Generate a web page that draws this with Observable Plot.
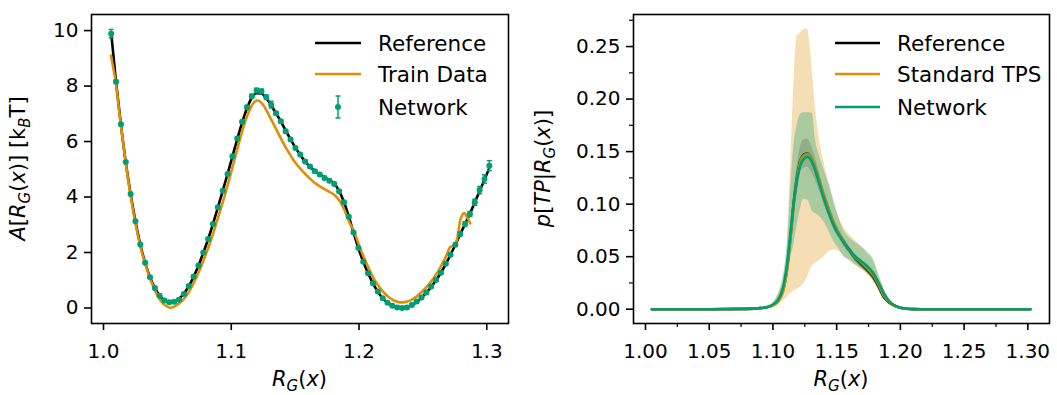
<!DOCTYPE html>
<html><head><meta charset="utf-8">
<script src="https://cdn.jsdelivr.net/npm/d3@7"></script>
<script src="https://cdn.jsdelivr.net/npm/@observablehq/plot@0.6"></script>
<style>
body{margin:0;background:#fff;}
#wrap{position:relative;width:1057px;height:395px;overflow:hidden;}
#wrap svg{position:absolute;top:0;}
</style></head><body><div id="wrap"></div>
<script>
// ---------- data: left panel ----------
const netX = [1.0060,1.0098,1.0136,1.0174,1.0212,1.0250,1.0288,1.0326,1.0364,1.0402,
1.0439,1.0477,1.0515,1.0553,1.0591,1.0629,1.0667,1.0705,1.0743,1.0781,
1.0819,1.0857,1.0895,1.0933,1.0971,1.1009,1.1047,1.1085,1.1123,1.1161,
1.1198,1.1236,1.1274,1.1312,1.1350,1.1388,1.1426,1.1464,1.1502,1.1540,
1.1578,1.1616,1.1654,1.1692,1.1730,1.1768,1.1806,1.1844,1.1882,1.1920,
1.1957,1.1995,1.2033,1.2071,1.2109,1.2147,1.2185,1.2223,1.2261,1.2299,
1.2337,1.2375,1.2413,1.2451,1.2489,1.2527,1.2565,1.2603,1.2641,1.2679,
1.2716,1.2754,1.2792,1.2830,1.2868,1.2906,1.2944,1.2982,1.3020];
const netY = [9.89,8.16,6.62,5.26,4.11,3.13,2.29,1.63,1.11,0.72,
0.44,0.27,0.21,0.22,0.30,0.50,0.79,1.13,1.53,2.00,
2.49,3.03,3.63,4.23,4.83,5.47,6.11,6.71,7.24,7.63,
7.84,7.81,7.60,7.33,7.02,6.73,6.37,6.07,5.77,5.53,
5.28,5.10,4.93,4.81,4.69,4.59,4.47,4.21,3.81,3.29,
2.72,2.16,1.67,1.25,0.89,0.59,0.35,0.19,0.08,0.02,
0.00,0.02,0.11,0.23,0.38,0.56,0.77,1.01,1.27,1.59,
1.92,2.28,2.67,3.03,3.39,3.81,4.25,4.65,5.13];
const netErr = [0.15,0.05,0.04,0.04,0.04,0.04,0.04,0.04,0.04,0.04,
0.05,0.05,0.05,0.05,0.05,0.04,0.04,0.04,0.04,0.04,
0.04,0.04,0.04,0.04,0.04,0.05,0.05,0.05,0.06,0.07,
0.08,0.08,0.08,0.12,0.06,0.06,0.06,0.05,0.05,0.05,
0.05,0.05,0.05,0.05,0.05,0.05,0.05,0.05,0.05,0.05,
0.04,0.04,0.04,0.04,0.04,0.04,0.04,0.04,0.05,0.05,
0.05,0.05,0.05,0.05,0.05,0.05,0.05,0.05,0.05,0.05,
0.06,0.06,0.07,0.08,0.09,0.11,0.13,0.15,0.18];
const refY = [9.92,8.15,6.62,5.26,4.11,3.13,2.29,1.63,1.11,0.72,
0.45,0.27,0.21,0.23,0.33,0.52,0.78,1.12,1.52,1.99,
2.48,3.03,3.62,4.22,4.83,5.46,6.09,6.68,7.20,7.58,
7.74,7.73,7.56,7.31,7.02,6.73,6.39,6.08,5.78,5.52,
5.28,5.09,4.94,4.82,4.71,4.61,4.48,4.22,3.82,3.29,
2.72,2.16,1.67,1.25,0.89,0.59,0.35,0.19,0.08,0.02,
0.00,0.02,0.10,0.22,0.37,0.55,0.76,1.00,1.27,1.58,
1.92,2.28,2.66,3.03,3.40,3.80,4.22,4.62,5.05];
const trainX = [1.0058,1.0097,1.0136,1.0175,1.0214,1.0253,1.0293,1.0332,1.0371,1.0410,
1.0450,1.0490,1.0522,1.0553,1.0592,1.0632,1.0671,1.0710,1.0750,1.0790,
1.0827,1.0866,1.0905,1.0944,1.0983,1.1023,1.1062,1.1101,1.1140,1.1180,
1.1206,1.1245,1.1284,1.1323,1.1362,1.1401,1.1440,1.1492,1.1545,1.1597,
1.1650,1.1702,1.1754,1.1806,1.1845,1.1884,1.1923,1.1962,1.2001,1.2040,
1.2079,1.2119,1.2171,1.2236,1.2301,1.2340,1.2379,1.2432,1.2484,1.2536,
1.2588,1.2641,1.2680,1.2714,1.2740,1.2766,1.2792,1.2824,1.2845,1.2870];
const trainY = [9.10,8.08,6.57,5.19,3.99,2.97,2.13,1.50,0.98,0.56,
0.24,0.07,0.01,0.05,0.16,0.34,0.60,0.94,1.34,1.80,
2.26,2.80,3.38,3.98,4.62,5.30,5.98,6.60,7.10,7.42,
7.48,7.35,7.05,6.70,6.35,6.00,5.68,5.30,5.00,4.75,
4.52,4.36,4.22,4.08,3.88,3.55,3.10,2.75,2.25,1.80,
1.40,1.03,0.68,0.38,0.22,0.20,0.23,0.35,0.55,0.80,
1.10,1.50,1.85,2.20,2.25,2.45,3.15,3.42,3.28,3.05];
const leftXTicks = [1.0, 1.1, 1.2, 1.3];
const leftYTicks = [0, 2, 4, 6, 8, 10];

// ---------- data: right panel ----------
const rx = [1.005,1.05,1.08,1.09,1.095,1.1,1.104,1.108,1.111,1.114,1.116,1.119,1.1215,1.124,1.127,1.129,1.131,1.1335,1.136,1.14,1.144,1.148,1.152,1.156,1.16,1.164,1.169,1.174,1.179,1.183,1.187,1.191,1.195,1.2,1.205,1.21,1.22,1.25,1.302];
const refP = [0,0,0.0003,0.001,0.0018,0.004,0.008,0.018,0.038,0.072,0.098,0.127,0.142,0.147,0.1485,0.146,0.141,0.133,0.123,0.107,0.093,0.080,0.071,0.063,0.056,0.049,0.043,0.037,0.030,0.021,0.0115,0.0065,0.0035,0.0013,0.0004,0.0001,0,0,0];
const refLo = [0,0,0.0002,0.0008,0.0015,0.0035,0.007,0.016,0.034,0.066,0.09,0.117,0.13,0.134,0.135,0.133,0.129,0.122,0.114,0.1,0.087,0.075,0.067,0.059,0.053,0.046,0.04,0.034,0.027,0.019,0.01,0.0055,0.003,0.001,0.0003,0.0001,0,0,0];
const refHi = [0,0,0.0004,0.0012,0.0021,0.0045,0.009,0.02,0.042,0.078,0.106,0.137,0.154,0.161,0.162,0.159,0.153,0.144,0.132,0.114,0.099,0.085,0.075,0.067,0.059,0.052,0.046,0.04,0.033,0.023,0.013,0.0075,0.004,0.0016,0.0005,0.0001,0,0,0];
const tpsP = [0,0,0.0003,0.001,0.0018,0.0035,0.007,0.017,0.036,0.070,0.095,0.125,0.141,0.146,0.148,0.146,0.142,0.134,0.125,0.109,0.095,0.082,0.072,0.064,0.057,0.050,0.045,0.039,0.032,0.023,0.013,0.007,0.0035,0.0013,0.0004,0.0001,0,0,0];
const tpsLo = [0,0,0.0002,0.0007,0.001,0.002,0.004,0.008,0.011,0.015,0.017,0.019,0.021,0.024,0.03,0.037,0.041,0.044,0.046,0.05,0.055,0.0565,0.055,0.051,0.046,0.042,0.038,0.033,0.026,0.018,0.011,0.006,0.003,0.001,0.0003,0.0001,0,0,0];
const tpsHi = [0,0,0.0004,0.0014,0.0026,0.006,0.015,0.03,0.053,0.14,0.2,0.26,0.263,0.266,0.267,0.253,0.226,0.19,0.165,0.14,0.12,0.1,0.087,0.077,0.071,0.066,0.06,0.053,0.046,0.034,0.021,0.011,0.005,0.002,0.0007,0.0001,0,0,0];
const netP = [0,0,0.0003,0.001,0.0018,0.0045,0.009,0.021,0.042,0.075,0.098,0.123,0.137,0.1425,0.145,0.1435,0.139,0.131,0.121,0.105,0.091,0.079,0.070,0.063,0.057,0.051,0.046,0.041,0.034,0.025,0.015,0.008,0.004,0.0015,0.0005,0.0001,0,0,0];
const netLo = [0,0,0.0002,0.0008,0.0014,0.003,0.006,0.014,0.03,0.05,0.059,0.08,0.095,0.105,0.104,0.1,0.093,0.091,0.089,0.083,0.074,0.064,0.057,0.049,0.047,0.043,0.039,0.035,0.029,0.02,0.011,0.006,0.003,0.001,0.0003,0.0001,0,0,0];
const netHi = [0,0,0.0004,0.0012,0.0022,0.006,0.013,0.03,0.06,0.115,0.15,0.175,0.185,0.187,0.187,0.187,0.186,0.16,0.148,0.133,0.119,0.103,0.086,0.074,0.068,0.064,0.06,0.055,0.047,0.032,0.019,0.01,0.005,0.002,0.0007,0.0001,0,0,0];
const rightXTicks = [1.00,1.05,1.10,1.15,1.20,1.25,1.30];
const rightXMinor = [1.025,1.075,1.125,1.175,1.225,1.275];
const rightYTicks = [0,0.05,0.10,0.15,0.20,0.25];
const rightYMinor = [0.025,0.075,0.125,0.175,0.225,0.275];

const BLACK = "#000000", ORANGE = "#de8f05", GREEN = "#029e73";
const FONT = "DejaVu Sans";
const xDomain = [0.9906, 1.3170];

// ---------- tables ----------
const netData = netX.map((x, i) => ({x, y: netY[i], e: netErr[i]}));
const refData = netX.map((x, i) => ({x, y: refY[i]}));
const trainData = trainX.map((x, i) => ({x, y: trainY[i]}));
const rData = rx.map((x, i) => ({x, ref: refP[i], refLo: refLo[i], refHi: refHi[i],
  tps: tpsP[i], tpsLo: tpsLo[i], tpsHi: tpsHi[i], net: netP[i], netLo: netLo[i], netHi: netHi[i]}));

const capSymbol = {draw(ctx, size) { const r = Math.sqrt(size / Math.PI); ctx.moveTo(-r, 0); ctx.lineTo(r, 0); }};

const baseStyle = {fontFamily: FONT, fontSize: "20px", color: "black", background: "white", overflow: "visible"};

const left = Plot.plot({
  width: 527, height: 395,
  marginLeft: 91, marginRight: 19, marginTop: 14, marginBottom: 72,
  style: baseStyle,
  x: {domain: xDomain},
  y: {domain: [-0.56, 10.58]},
  marks: [
    Plot.line(refData, {x: "x", y: "y", stroke: BLACK, strokeWidth: 2.6, curve: "monotone-x"}),
    Plot.line(trainData, {x: "x", y: "y", stroke: ORANGE, strokeWidth: 2.6, curve: "monotone-x"}),
    Plot.ruleX(netData, {x: "x", y1: d => d.y - d.e, y2: d => d.y + d.e, stroke: GREEN, strokeWidth: 1.5}),
    Plot.dot(netData, {x: "x", y: d => d.y - d.e, symbol: capSymbol, r: 2.5, stroke: GREEN, strokeWidth: 1.5}),
    Plot.dot(netData, {x: "x", y: d => d.y + d.e, symbol: capSymbol, r: 2.5, stroke: GREEN, strokeWidth: 1.5}),
    Plot.dot(netData, {x: "x", y: "y", r: 3, fill: GREEN, stroke: null}),
    Plot.frame({stroke: "black", strokeWidth: 1.6}),
    Plot.axisX(leftXTicks, {tickFormat: d3.format(".1f"), tickSize: 7, tickPadding: 13, strokeWidth: 1.6, label: null}),
    Plot.axisY(leftYTicks, {tickFormat: d3.format("d"), tickSize: 7, tickPadding: 6, strokeWidth: 1.6, label: null})
  ]
});
left.style.left = "0px";

const right = Plot.plot({
  width: 530, height: 395,
  marginLeft: 106, marginRight: 8, marginTop: 14, marginBottom: 72,
  style: baseStyle,
  x: {domain: xDomain},
  y: {domain: [-0.0136, 0.2805]},
  marks: [
    Plot.areaY(rData, {x: "x", y1: "refLo", y2: "refHi", fill: BLACK, fillOpacity: 0.22, curve: "monotone-x"}),
    Plot.line(rData, {x: "x", y: "ref", stroke: BLACK, strokeWidth: 2.6, curve: "monotone-x"}),
    Plot.areaY(rData, {x: "x", y1: "tpsLo", y2: "tpsHi", fill: ORANGE, fillOpacity: 0.3, curve: "monotone-x"}),
    Plot.line(rData, {x: "x", y: "tps", stroke: ORANGE, strokeWidth: 2.6, curve: "monotone-x"}),
    Plot.areaY(rData, {x: "x", y1: "netLo", y2: "netHi", fill: GREEN, fillOpacity: 0.3, curve: "monotone-x"}),
    Plot.line(rData, {x: "x", y: "net", stroke: GREEN, strokeWidth: 2.6, curve: "monotone-x"}),
    Plot.frame({stroke: "black", strokeWidth: 1.6}),
    Plot.axisX(rightXTicks, {tickFormat: d3.format(".2f"), tickSize: 7, tickPadding: 13, strokeWidth: 1.6, label: null}),
    Plot.axisX(rightXMinor, {tickFormat: () => "", tickSize: 4, strokeWidth: 1.2, label: null}),
    Plot.axisY(rightYTicks, {tickFormat: d3.format(".2f"), tickSize: 7, tickPadding: 6, strokeWidth: 1.6, label: null}),
    Plot.axisY(rightYMinor, {tickFormat: () => "", tickSize: 4, strokeWidth: 1.2, label: null})
  ]
});
right.style.left = "527px";

const wrap = document.getElementById("wrap");
wrap.appendChild(left);
wrap.appendChild(right);

// ---------- rich-text labels & legends ----------
function richText(svg, x, y, parts, opts = {}) {
  const t = d3.select(svg).append("text")
    .attr("font-family", FONT).attr("font-size", opts.size || 21)
    .attr("fill", "black").attr("text-anchor", "middle");
  if (opts.rotate) t.attr("transform", `translate(${x},${y}) rotate(-90)`);
  else t.attr("x", x).attr("y", y);
  let sub = false;
  for (const p of parts) {
    const s = t.append("tspan").text(p.t);
    if (p.i) s.attr("font-style", "italic");
    if (p.sub && !sub) { s.attr("dy", 5).attr("font-size", 15); sub = true; }
    else if (p.sub) s.attr("font-size", 15);
    else if (!p.sub && sub) { s.attr("dy", -5); sub = false; }
  }
  return t;
}
const RG = [{t: "R", i: 1}, {t: "G", i: 1, sub: 1}, {t: "("}, {t: "x", i: 1}, {t: ")"}];
richText(left, 299.5, 386, RG);
richText(right, 314, 386, RG);
richText(left, 25, 168.5, [{t: "A", i: 1}, {t: "["}, ...RG, {t: "] [k"}, {t: "B", i: 1, sub: 1}, {t: "T]"}], {rotate: 1});
richText(right, 23, 168.5, [{t: "p", i: 1}, {t: "["}, {t: "TP", i: 1}, {t: "|"}, ...RG, {t: "]"}], {rotate: 1});

function legend(svg, x0, x1, xt, rows) {
  const g = d3.select(svg).append("g");
  rows.forEach(r => {
    if (r.kind === "line") {
      g.append("line").attr("x1", x0).attr("x2", x1).attr("y1", r.y).attr("y2", r.y)
        .attr("stroke", r.color).attr("stroke-width", 2.6);
    } else {
      const cx = (x0 + x1) / 2;
      g.append("line").attr("x1", cx).attr("x2", cx).attr("y1", r.y - 11).attr("y2", r.y + 11).attr("stroke", r.color).attr("stroke-width", 1.5);
      g.append("line").attr("x1", cx - 2.5).attr("x2", cx + 2.5).attr("y1", r.y - 11).attr("y2", r.y - 11).attr("stroke", r.color).attr("stroke-width", 1.5);
      g.append("line").attr("x1", cx - 2.5).attr("x2", cx + 2.5).attr("y1", r.y + 11).attr("y2", r.y + 11).attr("stroke", r.color).attr("stroke-width", 1.5);
      g.append("circle").attr("cx", cx).attr("cy", r.y).attr("r", 3).attr("fill", r.color);
    }
    g.append("text").attr("x", xt).attr("y", r.y).attr("dy", "0.36em").attr("text-anchor", "start")
      .attr("font-family", FONT).attr("font-size", 21.5).attr("fill", "black").text(r.label);
  });
}
legend(left, 315, 361, 378, [
  {kind: "line", y: 43, color: BLACK, label: "Reference"},
  {kind: "line", y: 74, color: ORANGE, label: "Train Data"},
  {kind: "err", y: 107, color: GREEN, label: "Network"}
]);
legend(right, 308, 353, 370, [
  {kind: "line", y: 43, color: BLACK, label: "Reference"},
  {kind: "line", y: 74, color: ORANGE, label: "Standard TPS"},
  {kind: "line", y: 107, color: GREEN, label: "Network"}
]);
</script></body></html>
